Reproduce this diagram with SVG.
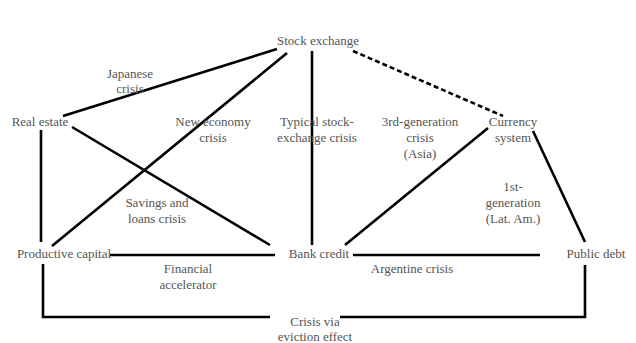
<svg xmlns="http://www.w3.org/2000/svg" width="636" height="343" viewBox="0 0 636 343">
<style>
text{font-family:'Liberation Serif','Times New Roman',Times,'DejaVu Serif',serif;font-size:13px;fill:#555;text-anchor:middle}
.c{stroke:#000;stroke-width:2.6;fill:none;stroke-linecap:butt}
.d{stroke-dasharray:5 3}
</style>
<rect width="636" height="343" fill="#fff"/>
<g id="connectors">
<line class="c" x1="277" y1="49" x2="63" y2="116"/>
<line class="c" x1="287" y1="53" x2="52" y2="246"/>
<line class="c" x1="72" y1="127" x2="270" y2="245"/>
<line class="c" x1="312" y1="51" x2="312" y2="245"/>
<line class="c d" x1="353" y1="51" x2="503" y2="116"/>
<line class="c" x1="488" y1="128" x2="345" y2="245"/>
<line class="c" x1="533" y1="131" x2="585" y2="242"/>
<line class="c" x1="41" y1="130" x2="41" y2="242"/>
<line class="c" x1="110" y1="255" x2="275" y2="255"/>
<line class="c" x1="353" y1="255" x2="540" y2="255"/>
<polyline class="c" points="43,264 43,317 270,317"/>
<polyline class="c" points="585,265 585,317 340,317"/>
</g>
<g id="labels" font-family="Liberation Serif">
<text x="130" y="78">Japanese</text><text x="130" y="93">crisis</text>
<text x="213" y="126">New economy</text><text x="213" y="142">crisis</text>
<text x="317" y="126">Typical stock-</text><text x="317" y="142">exchange crisis</text>
<text x="420" y="126">3rd-generation</text><text x="420" y="142">crisis</text><text x="420" y="158">(Asia)</text>
<text x="513" y="191">1st-</text><text x="513" y="207">generation</text><text x="513" y="223">(Lat. Am.)</text>
<text x="157" y="207">Savings and</text><text x="157" y="223">loans crisis</text>
<text x="188" y="273">Financial</text><text x="188" y="289">accelerator</text>
<text x="412" y="273">Argentine crisis</text>
<text x="315" y="326">Crisis via</text><text x="315" y="341">eviction effect</text>
</g>
<g id="stock-exchange"><text x="318" y="45">Stock exchange</text></g>
<g id="real-estate"><text x="40" y="126">Real estate</text></g>
<g id="currency-system"><text x="513" y="126">Currency</text><text x="513" y="142">system</text></g>
<g id="productive-capital"><text x="64" y="258">Productive capital</text></g>
<g id="bank-credit"><text x="319" y="258">Bank credit</text></g>
<g id="public-debt"><text x="596" y="258">Public debt</text></g>
</svg>
